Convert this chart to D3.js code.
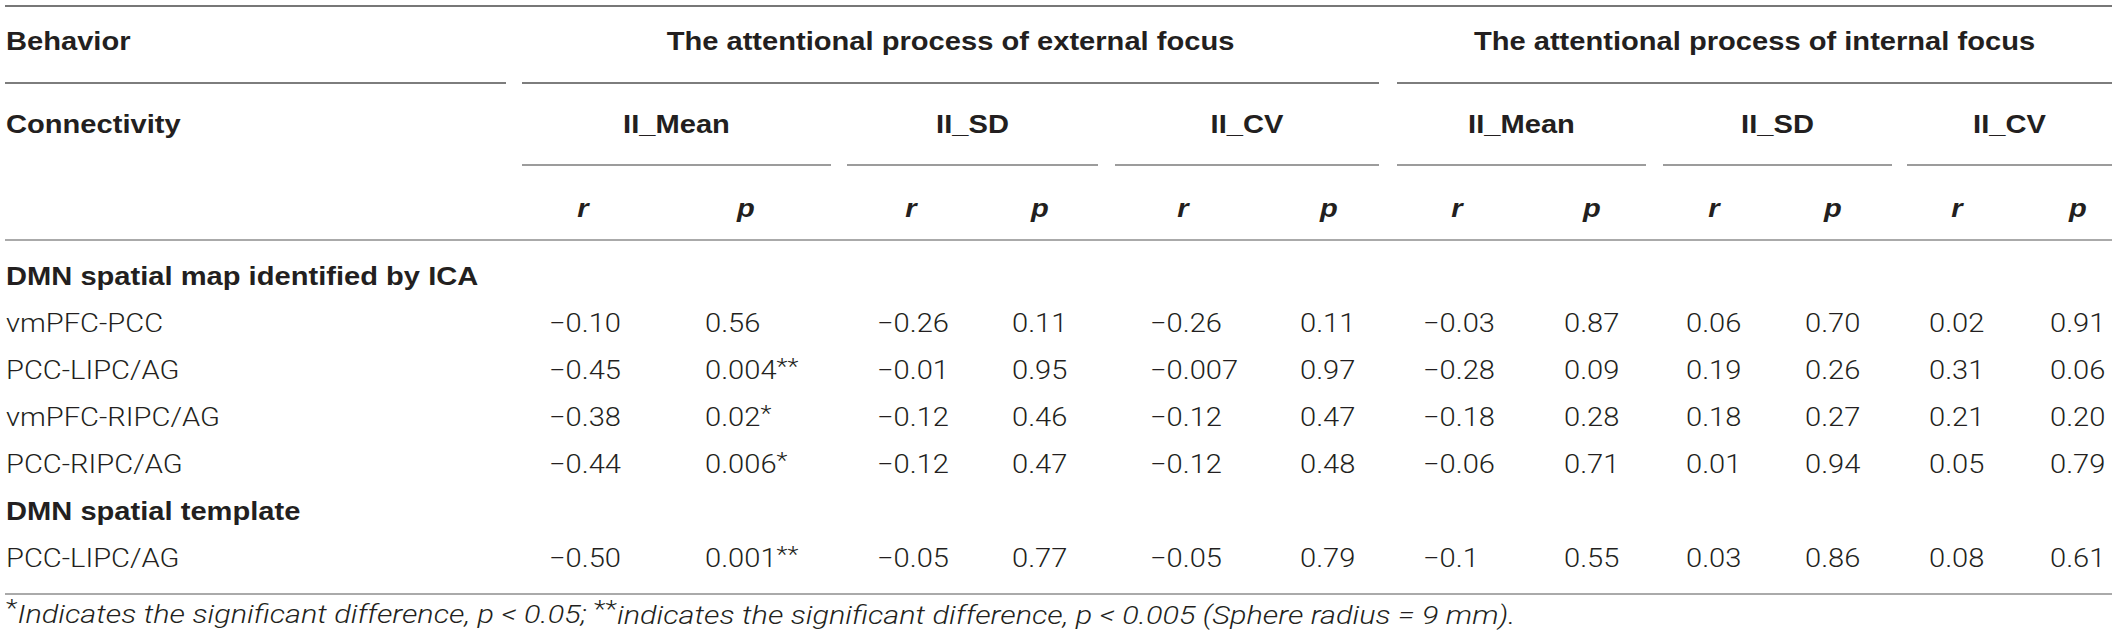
<!DOCTYPE html>
<html>
<head>
<meta charset="utf-8">
<script src="https://cdn.jsdelivr.net/npm/d3@7"></script>
<style>
  html, body { margin: 0; padding: 0; background: #fff; }
  svg text { font-family: "Liberation Sans", Arial, Helvetica, sans-serif; fill: #231f20; }
  svg text.light { font-family: Roboto, "Liberation Sans", Arial, sans-serif; font-weight: 300; }
</style>
</head>
<body>
<div id="table"></div>
<script>
// table content
var behaviors = ["The attentional process of external focus", "The attentional process of internal focus"];
var measures = ["II_Mean", "II_SD", "II_CV"];
var stats = ["r", "p"];
var groups = ["DMN spatial map identified by ICA", "DMN spatial template"];
var groupOf = [0, 0, 0, 0, 1];
var connectivity = ["vmPFC-PCC", "PCC-LIPC/AG", "vmPFC-RIPC/AG", "PCC-RIPC/AG", "PCC-LIPC/AG"];

// external focus
var extMeanR = ["\u22120.10", "\u22120.45", "\u22120.38", "\u22120.44", "\u22120.50"];
var extMeanP = ["0.56", "0.004**", "0.02*", "0.006*", "0.001**"];
var extSdR = ["\u22120.26", "\u22120.01", "\u22120.12", "\u22120.12", "\u22120.05"];
var extSdP = ["0.11", "0.95", "0.46", "0.47", "0.77"];
var extCvR = ["\u22120.26", "\u22120.007", "\u22120.12", "\u22120.12", "\u22120.05"];
var extCvP = ["0.11", "0.97", "0.47", "0.48", "0.79"];
// internal focus
var intMeanR = ["\u22120.03", "\u22120.28", "\u22120.18", "\u22120.06", "\u22120.1"];
var intMeanP = ["0.87", "0.09", "0.28", "0.71", "0.55"];
var intSdR = ["0.06", "0.19", "0.18", "0.01", "0.03"];
var intSdP = ["0.70", "0.26", "0.27", "0.94", "0.86"];
var intCvR = ["0.02", "0.31", "0.21", "0.05", "0.08"];
var intCvP = ["0.91", "0.06", "0.20", "0.79", "0.61"];

var footnote = "Indicates the significant difference, p < 0.05; ";
var footnote2 = "indicates the significant difference, p < 0.005 (Sphere radius = 9 mm).";

var columns = [extMeanR, extMeanP, extSdR, extSdP, extCvR, extCvP,
               intMeanR, intMeanP, intSdR, intSdP, intCvR, intCvP];

var width = 2117, height = 644;
var fs = 26, sx = 1.12;

var svg = d3.select("#table")
    .append("svg")
    .attr("width", width)
    .attr("height", height);

// column positions (left edge of each value column)
var colX = d3.scaleOrdinal()
    .domain(d3.range(12))
    .range([549, 705, 877, 1012, 1150, 1300, 1423, 1564, 1686, 1805, 1929, 2050]);
// header letter centres
var statX = d3.scaleOrdinal()
    .domain(d3.range(12))
    .range([583, 746, 911, 1040, 1183, 1329, 1457, 1592, 1714, 1833, 1957, 2078]);
// spans for measure blocks and behaviour blocks
var measureSpan = [[522, 831], [847, 1098], [1115, 1379], [1397, 1646], [1663, 1892], [1907, 2112]];
var behaviorSpan = [[522, 1379], [1397, 2112]];

// body rows: heading row + data rows
var rows = [];
connectivity.forEach(function (c, i) {
    if (i == 0 || groupOf[i] != groupOf[i - 1]) {
        rows.push({ label: groups[groupOf[i]], heading: true });
    }
    rows.push({ label: c, heading: false, index: i });
});

var y = d3.scaleLinear().domain([0, 1]).range([276, 323]);
var headY = [41, 124, 208];
var footY = 622;

function place(sel, xf, yf, k) {
    return sel.attr("transform", function (d, i) {
        return "translate(" + xf(d, i) + "," + yf(d, i) + ") scale(" + (k || sx) + ",1)";
    })
    .attr("dy", "0.36em")
    .style("font-size", fs + "px");
}

// rules
function rule(x0, x1, yy, color) {
    svg.append("line")
        .attr("x1", x0).attr("x2", x1)
        .attr("y1", yy).attr("y2", yy)
        .attr("stroke", color)
        .attr("stroke-width", 2);
}
rule(5, 2112, 6, "#777");
rule(5, 506, 83, "#7d7d7d");
behaviorSpan.forEach(function (s) { rule(s[0], s[1], 83, "#7d7d7d"); });
measureSpan.forEach(function (s) { rule(s[0], s[1], 165, "#9c9c9c"); });
rule(5, 2112, 240, "#aaa");
rule(5, 2112, 594, "#aaa");

// header row 1
place(svg.append("text").datum(0).text("Behavior"),
    function () { return 6; }, function () { return headY[0]; })
    .style("font-weight", "bold");
place(svg.selectAll(".beh").data(behaviors).enter().append("text").attr("class", "beh")
    .text(function (d) { return d; }),
    function (d, i) { return (behaviorSpan[i][0] + behaviorSpan[i][1]) / 2; },
    function () { return headY[0]; })
    .attr("text-anchor", "middle")
    .style("font-weight", "bold");

// header row 2
place(svg.append("text").datum(0).text("Connectivity"),
    function () { return 6; }, function () { return headY[1]; })
    .style("font-weight", "bold");
var measureLabels = measures.concat(measures);
place(svg.selectAll(".mea").data(measureLabels).enter().append("text").attr("class", "mea")
    .text(function (d) { return d; }),
    function (d, i) { return (measureSpan[i][0] + measureSpan[i][1]) / 2; },
    function () { return headY[1]; })
    .attr("text-anchor", "middle")
    .style("font-weight", "bold");

// header row 3
place(svg.selectAll(".stat").data(d3.range(12)).enter().append("text").attr("class", "stat")
    .text(function (d) { return stats[d % 2]; }),
    function (d) { return statX(d); },
    function () { return headY[2]; })
    .attr("text-anchor", "middle")
    .style("font-weight", "bold")
    .style("font-style", "italic");

// row labels
place(svg.selectAll(".lab").data(rows).enter().append("text")
    .attr("class", function (d) { return d.heading ? "lab" : "lab light"; })
    .text(function (d) { return d.label; }),
    function () { return 6; },
    function (d, i) { return y(i); })
    .style("font-weight", function (d) { return d.heading ? "bold" : null; });

// cells
var cells = [];
rows.forEach(function (r, ri) {
    if (r.heading) return;
    columns.forEach(function (col, ci) {
        var v = col[r.index];
        var m = v.match(/^([^*]*)(\**)$/);
        cells.push({ row: ri, col: ci, value: m[1], mark: m[2] });
    });
});

var cell = place(svg.selectAll(".cell").data(cells).enter().append("text").attr("class", "cell light"),
    function (d) { return colX(d.col); },
    function (d) { return y(d.row); });
cell.append("tspan").text(function (d) { return d.value; });
cell.append("tspan")
    .style("font-size", "23px")
    .attr("dy", "-0.25em")
    .text(function (d) { return d.mark; });

// footnote
var fn = place(svg.append("text").datum(0).attr("class", "light"),
    function () { return 6; }, function () { return footY; }, 1.18)
    .style("font-style", "italic");
fn.append("tspan").style("font-style", "normal").style("font-size", "23px").attr("dy", "-0.25em").text("*");
fn.append("tspan").attr("dy", "0.25em").text(footnote);
fn.append("tspan").style("font-style", "normal").style("font-size", "23px").attr("dy", "-0.25em").text("**");
fn.append("tspan").attr("dy", "0.25em").text(footnote2);
</script>
</body>
</html>
